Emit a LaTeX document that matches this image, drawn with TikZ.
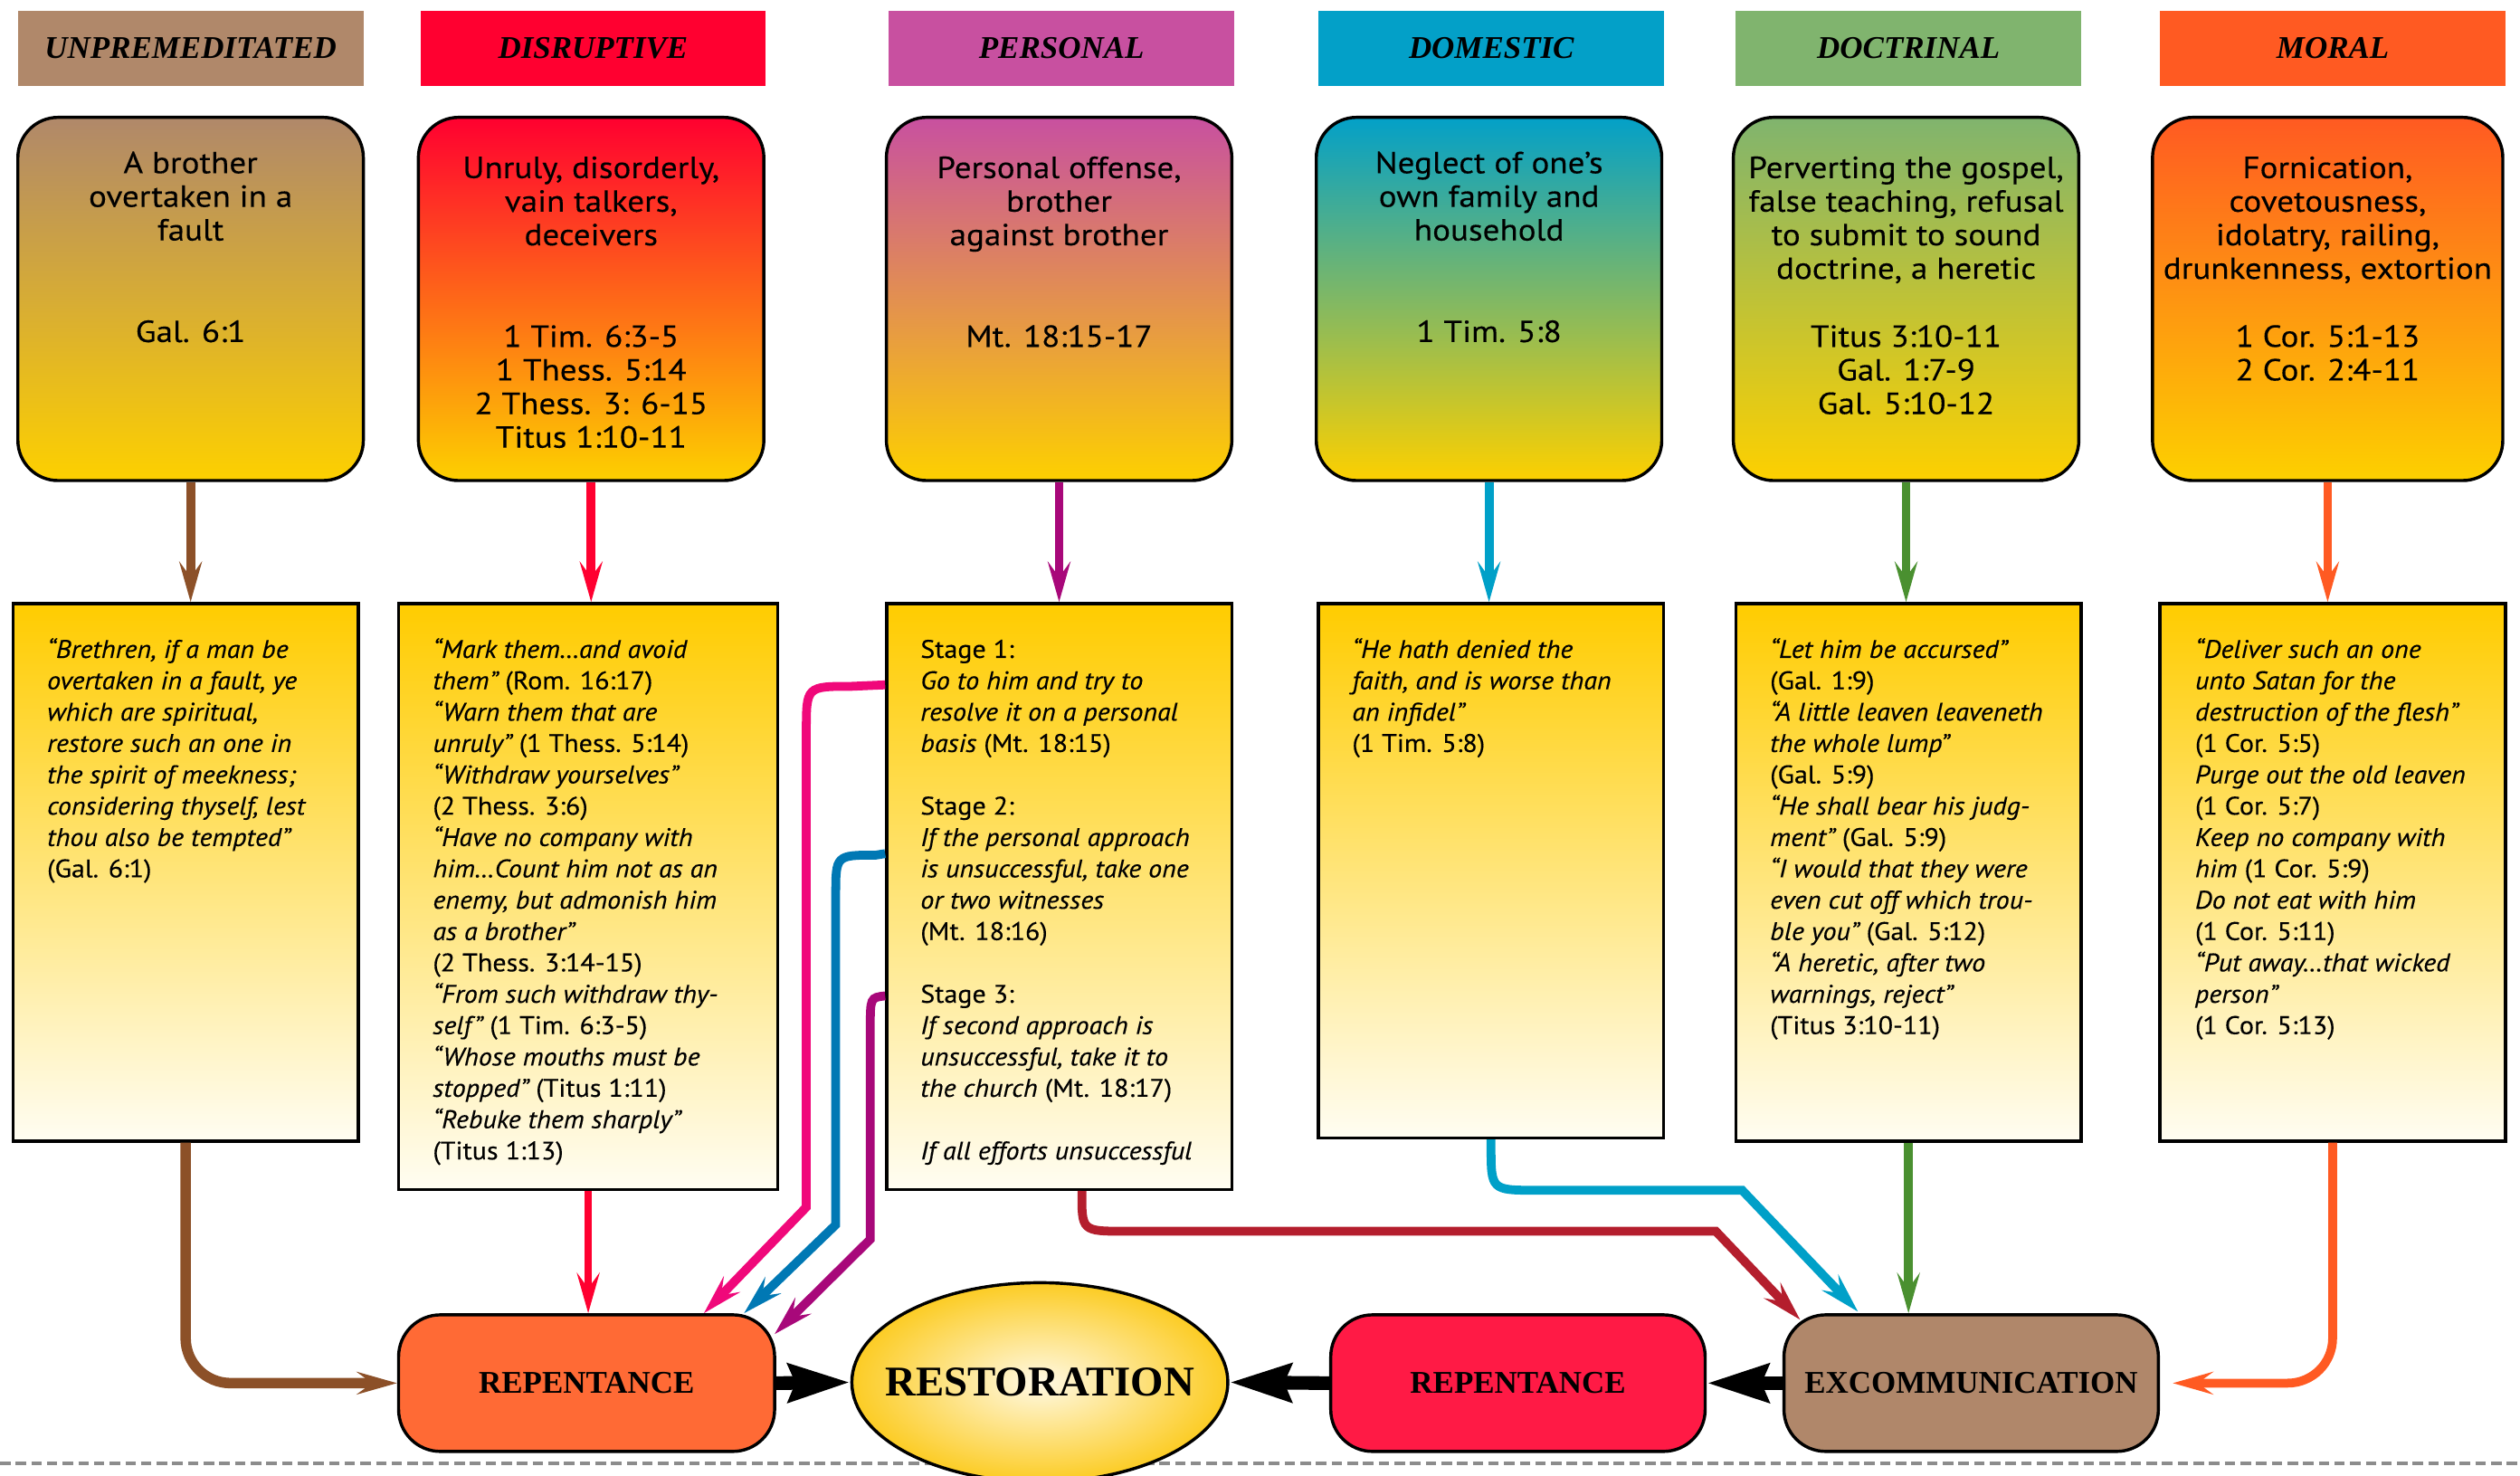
\documentclass[tikz,border=0pt]{standalone}
\usepackage{fontspec}
\setmainfont{PT Sans}
\newfontfamily\boxfont[FakeStretch=1.1,FakeBold=0.25]{PT Sans}
\newfontfamily\rectfont[FakeStretch=1.07,FakeBold=0.25]{PT Sans}
\newfontfamily\hdfont{Liberation Serif}
\usetikzlibrary{arrows.meta,shapes.geometric,calc}
\definecolor{cUnp}{RGB}{176,136,106}
\definecolor{cDis}{RGB}{255,0,48}
\definecolor{cPer}{RGB}{200,80,160}
\definecolor{cDom}{RGB}{3,160,200}
\definecolor{cDoc}{RGB}{128,180,110}
\definecolor{cMor}{RGB}{255,90,34}
\definecolor{cGold}{RGB}{253,208,0}
\definecolor{cRectTop}{RGB}{255,204,0}
\definecolor{cRectBot}{RGB}{255,253,242}
\definecolor{aBrown}{RGB}{140,80,40}
\definecolor{aRed}{RGB}{255,0,48}
\definecolor{aPink}{RGB}{240,8,122}
\definecolor{aBlue}{RGB}{0,120,180}
\definecolor{aPurple}{RGB}{168,8,122}
\definecolor{aDark}{RGB}{180,30,45}
\definecolor{aCyan}{RGB}{0,160,200}
\definecolor{aGreen}{RGB}{74,144,48}
\definecolor{aOrange}{RGB}{255,90,34}
\definecolor{fRep}{RGB}{255,106,53}
\definecolor{fRepB}{RGB}{255,26,69}
\definecolor{fExc}{RGB}{176,135,106}
\definecolor{rIn}{RGB}{255,249,228}
\definecolor{rOut}{RGB}{252,204,36}
\tikzset{
  hdr/.style={minimum width=4.3cm, minimum height=0.94cm, inner sep=0,
    font=\hdfont\bfseries\itshape\fontsize{11.2}{13}\selectfont},
  rbox/.style={draw=black, line width=1.1pt, rounded corners=0.5cm,
    minimum width=4.3cm, minimum height=4.52cm, inner sep=0, bottom color=cGold},
  rectbox/.style={draw=black, line width=1.1pt, minimum width=4.3cm, inner sep=0,
    top color=cRectTop, bottom color=cRectBot},
  btxt/.style={anchor=north, align=center, inner sep=0,
    font=\boxfont\fontsize{10.8}{11.9}\selectfont},
  rtxt/.style={anchor=north west, align=left, inner sep=0,
    font=\rectfont\fontsize{9}{11.1}\selectfont\itshape},
  endbox/.style={draw=black, line width=1.1pt, rounded corners=0.52cm,
    minimum width=4.68cm, minimum height=1.7cm, inner sep=0,
    font=\hdfont\bfseries\fontsize{11.2}{13}\selectfont},
  arr/.style={line width=0.11cm, -{Stealth[length=0.5cm,width=0.28cm,inset=0.19cm]}},
  blk/.style={line width=0.17cm, -{Stealth[length=0.76cm,width=0.46cm,inset=0.08cm]}}
}
\begin{document}
\begin{tikzpicture}[x=0.02cm, y=-0.02cm]
\useasboundingbox (0,0) rectangle (1568,918);
% dashed base line
\draw[black!45, line width=0.045cm, dash pattern=on 0.13cm off 0.065cm] (0,910.6) -- (1568,910.6);

% headers
\node[hdr, fill=cUnp] (h1) at (118.6,30) {UNPREMEDITATED};
\node[hdr, fill=cDis] (h2) at (369,30) {DISRUPTIVE};
\node[hdr, fill=cPer] (h3) at (660.5,30) {PERSONAL};
\node[hdr, fill=cDom] (h4) at (928,30) {DOMESTIC};
\node[hdr, fill=cDoc] (h5) at (1187.5,30) {DOCTRINAL};
\node[hdr, fill=cMor] (h6) at (1451.5,30) {MORAL};

% rounded boxes
\node[rbox, top color=cUnp] (b1) at (118.6,186) {};
\node[rbox, top color=cDis] (b2) at (367.8,186) {};
\node[rbox, top color=cPer] (b3) at (659,186) {};
\node[rbox, top color=cDom] (b4) at (926.5,186) {};
\node[rbox, top color=cDoc] (b5) at (1186,186) {};
\node[rbox, top color=cMor, minimum width=4.36cm] (b6) at (1448.3,186) {};

\node[btxt] (t1) at (118.6,92.8) {\strut A brother\\overtaken in a\\fault};
\node[btxt] (s1) at (118.6,197.8) {\strut Gal. 6:1};
\node[btxt] (t2) at (367.8,95.8) {\strut Unruly, disorderly,\\vain talkers,\\deceivers};
\node[btxt] (s2) at (367.8,200.8) {\strut 1 Tim. 6:3-5\\1 Thess. 5:14\\2 Thess. 3: 6-15\\Titus 1:10-11};
\node[btxt] (t3) at (659,95.8) {\strut Personal offense,\\brother\\against brother};
\node[btxt] (s3) at (659,200.8) {\strut Mt. 18:15-17};
\node[btxt] (t4) at (926.5,92.8) {\strut Neglect of one’s\\own family and\\household};
\node[btxt] (s4) at (926.5,197.8) {\strut 1 Tim. 5:8};
\node[btxt] (t5) at (1186,95.8) {\strut Perverting the gospel,\\false teaching, refusal\\to submit to sound\\doctrine, a heretic};
\node[btxt] (s5) at (1186,200.8) {\strut Titus 3:10-11\\Gal. 1:7-9\\Gal. 5:10-12};
\node[btxt] (t6) at (1448.3,95.8) {\strut Fornication,\\covetousness,\\idolatry, railing,\\drunkenness, extortion};
\node[btxt] (s6) at (1448.3,200.8) {\strut 1 Cor. 5:1-13\\2 Cor. 2:4-11};

% rectangles
\node[rectbox, minimum height=6.69cm] (r1) at (115.5,542.75) {};
\node[rectbox, minimum width=4.72cm, minimum height=7.29cm] (r2) at (366,557.75) {};
\node[rectbox, minimum height=7.29cm] (r3) at (659.2,557.75) {};
\node[rectbox, minimum height=6.65cm] (r4) at (927.75,541.75) {};
\node[rectbox, minimum height=6.69cm] (r5) at (1187.5,542.75) {};
\node[rectbox, minimum height=6.69cm] (r6) at (1451.4,542.75) {};

\node[rtxt] (q1) at (29,395.3) {\strut “Brethren, if a man be\\overtaken in a fault, ye\\which are spiritual,\\restore such an one in\\the spirit of meekness;\\considering thyself, lest\\thou also be tempted”\\\upshape (Gal. 6:1)};
\node[rtxt] (q2) at (269,395.3) {\strut “Mark them…and avoid\\them” {\upshape (Rom. 16:17)}\\“Warn them that are\\unruly” {\upshape (1 Thess. 5:14)}\\“Withdraw yourselves”\\\upshape (2 Thess. 3:6)\\“Have no company with\\him…Count him not as an\\enemy, but admonish him\\as a brother”\\\upshape (2 Thess. 3:14-15)\\“From such withdraw thy-\\self” {\upshape (1 Tim. 6:3-5)}\\“Whose mouths must be\\stopped” {\upshape (Titus 1:11)}\\“Rebuke them sharply”\\\upshape (Titus 1:13)};
\node[rtxt] (q3) at (572.4,395.3) {\strut\upshape Stage 1:\\Go to him and try to\\resolve it on a personal\\basis {\upshape (Mt. 18:15)}\\[11.1pt]\upshape Stage 2:\\If the personal approach\\is unsuccessful, take one\\or two witnesses\\\upshape (Mt. 18:16)\\[11.1pt]\upshape Stage 3:\\If second approach is\\unsuccessful, take it to\\the church {\upshape (Mt. 18:17)}\\[11.1pt]If all efforts unsuccessful};
\node[rtxt] (q4) at (841,395.3) {\strut “He hath denied the\\faith, and is worse than\\an infidel”\\\upshape (1 Tim. 5:8)};
\node[rtxt] (q5) at (1101,395.3) {\strut “Let him be accursed”\\\upshape (Gal. 1:9)\\“A little leaven leaveneth\\the whole lump”\\\upshape (Gal. 5:9)\\“He shall bear his judg-\\ment” {\upshape (Gal. 5:9)}\\“I would that they were\\even cut off which trou-\\ble you” {\upshape (Gal. 5:12)}\\“A heretic, after two\\warnings, reject”\\\upshape (Titus 3:10-11)};
\node[rtxt] (q6) at (1365.5,395.3) {\strut “Deliver such an one\\unto Satan for the\\destruction of the flesh”\\\upshape (1 Cor. 5:5)\\Purge out the old leaven\\\upshape (1 Cor. 5:7)\\Keep no company with\\him {\upshape (1 Cor. 5:9)}\\Do not eat with him\\\upshape (1 Cor. 5:11)\\“Put away…that wicked\\person”\\\upshape (1 Cor. 5:13)};

% bottom row
\node[endbox, fill=fRep] (rep1) at (365,860.5) {REPENTANCE};
\node[endbox, fill=fRepB, minimum width=4.66cm] (rep2) at (944.5,860.5) {REPENTANCE};
\node[endbox, fill=fExc, minimum width=4.66cm] (exc) at (1226.5,860.5) {EXCOMMUNICATION};
\node[ellipse, draw=black, line width=1.1pt, inner color=rIn, outer color=rOut,
  minimum width=4.68cm, minimum height=2.48cm, inner sep=0] (rest) at (647,860) {};
\node[inner sep=0, font=\hdfont\bfseries\fontsize{15}{17}\selectfont] (restlbl) at (rest.center) {RESTORATION};

% top arrows
\draw[arr, color=aBrown] (b1.south) -- (b1.south |- r1.north);
\draw[arr, color=aRed] (b2.south) -- (b2.south |- r2.north);
\draw[arr, color=aPurple] (b3.south) -- (b3.south |- r3.north);
\draw[arr, color=aCyan] (b4.south) -- (b4.south |- r4.north);
\draw[arr, color=aGreen] (b5.south) -- (b5.south |- r5.north);
\draw[arr, color=aOrange] (b6.south) -- (b6.south |- r6.north);

% to repentance
\draw[arr, color=aBrown, line width=0.13cm, rounded corners=0.56cm] (r1.south) |- (rep1.west);
\draw[arr, color=aRed, line width=0.09cm] (r2.south) -- (r2.south |- rep1.north);
\coordinate (pk) at ($(r3.north west)+(0,51.5)$);
\coordinate (bl) at ($(r3.north west)+(0,156.5)$);
\coordinate (pu) at ($(r3.north west)+(0,245)$);
\draw[arr, color=aPink] (pk) -- (529.7,427) .. controls (501.7,427) .. (501.7,455) -- (501.7,751) -- ($(rep1.north east)+(-45,0)$);
\draw[arr, color=aBlue] (bl) -- (545,532) .. controls (520,532) .. (520,557) -- (520,762) -- ($(rep1.north east)+(-20,0)$);
\draw[arr, color=aPurple] (pu) .. controls (541.5,620.6) .. (541.5,640) -- (541.5,771) -- ($(rep1.north east)+(-1,13)$);

% to excommunication
\draw[arr, color=aDark] ($(r3.south)+(14,0)$) .. controls (673,766) .. (700,766) -- (1067.6,766) -- ($(exc.north west)+(11,4)$);
\draw[arr, color=aCyan] (r4.south) -- (927.75,713) .. controls (927.75,740.5) .. (956,740.5) -- (1084,740.5) -- ($(exc.north west)+(47,-1)$);
\draw[arr, color=aGreen] (r5.south) -- (r5.south |- exc.north);
\draw[arr, color=aOrange, rounded corners=0.56cm] (r6.south) |- ($(exc.east)+(8,0)$);

% black arrows
\draw[blk] (rep1.east) -- (rest.west);
\draw[blk] (rep2.west) -- (rest.east);
\draw[blk] (exc.west) -- (rep2.east);
\end{tikzpicture}
\end{document}
